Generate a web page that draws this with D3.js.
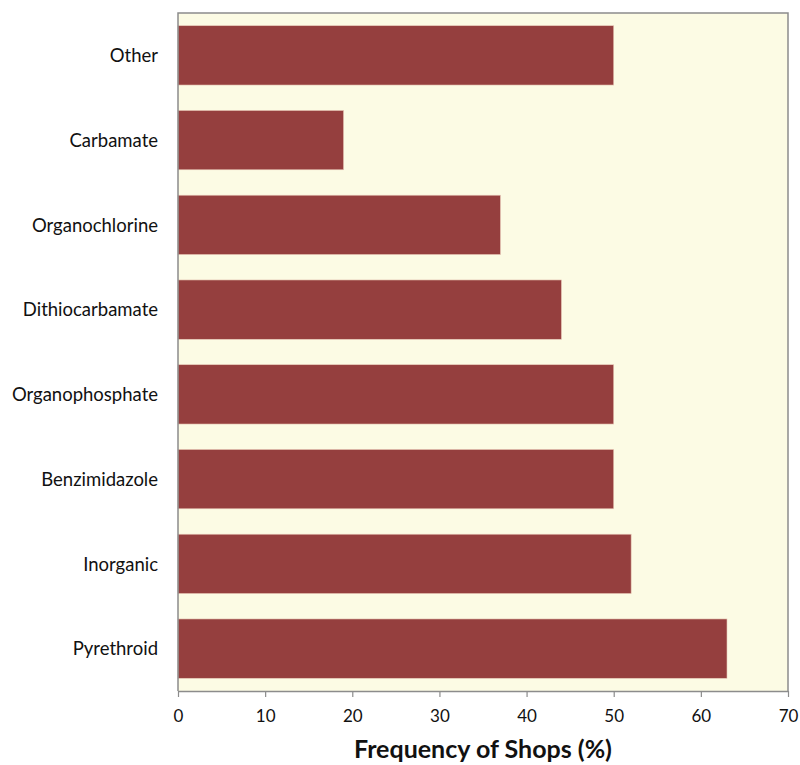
<!DOCTYPE html>
<html>
<head>
<meta charset="utf-8">
<script src="https://cdn.jsdelivr.net/npm/d3@7"></script>
<style>
  html, body { margin: 0; padding: 0; background: #ffffff; }
  svg { display: block; }
  text { font-family: Lato, "Open Sans", sans-serif; }
</style>
</head>
<body>
<svg id="chart" width="800" height="765"></svg>
<script>
// Pesticide classes, listed bottom to top as drawn
const categories = ["Pyrethroid", "Inorganic", "Benzimidazole", "Organophosphate",
                    "Dithiocarbamate", "Organochlorine", "Carbamate", "Other"];
const frequency = [63, 52, 50, 50, 44, 37, 19, 50];
const xTicks = [0, 10, 20, 30, 40, 50, 60, 70];
const xTitle = "Frequency of Shops (%)";

const svg = d3.select("#chart");
const margin = { left: 178, right: 12, top: 13, bottom: 74 };
const W = 800, H = 765;
const innerW = W - margin.left - margin.right;
const innerH = H - margin.top - margin.bottom;

const g = svg.append("g").attr("transform", `translate(${margin.left},${margin.top})`);

const x = d3.scaleLinear().domain([0, 70]).range([0, innerW]);
const y = d3.scaleBand().domain(categories.slice().reverse()).range([0, innerH]).paddingInner(0.3).paddingOuter(0.15);

// plot background
g.append("rect").attr("x", 0).attr("y", 0).attr("width", innerW).attr("height", innerH)
  .attr("fill", "#fcfbe4");

// bars
g.selectAll("rect.bar").data(categories).join("rect")
  .attr("class", "bar")
  .attr("x", x(0))
  .attr("y", d => y(d))
  .attr("width", (d, i) => x(frequency[i]) - x(0))
  .attr("height", y.bandwidth())
  .attr("fill", "#953f3e")
  .attr("stroke", "#e8c9b8")
  .attr("stroke-width", 0.6);

// frame on left, top, right
g.append("path")
  .attr("d", `M0,${innerH}V0H${innerW}V${innerH}`)
  .attr("fill", "none").attr("stroke", "#8c8c8c").attr("stroke-width", 1.5);

// x axis
const xAxis = g.append("g").attr("transform", `translate(0,${innerH})`)
  .call(d3.axisBottom(x).tickValues(xTicks).tickSize(6).tickPadding(13).tickSizeOuter(0));
xAxis.select(".domain").attr("stroke", "#8c8c8c").attr("stroke-width", 1.5);
xAxis.selectAll(".tick line").attr("stroke", "#8c8c8c").attr("stroke-width", 1.2);
xAxis.selectAll(".tick text").attr("font-size", 17).attr("fill", "#111")
  .attr("font-family", "Lato, 'Open Sans', sans-serif");

// category labels
g.selectAll("text.cat").data(categories).join("text")
  .attr("class", "cat")
  .attr("x", -20)
  .attr("y", d => y(d) + y.bandwidth() / 2)
  .attr("dy", "0.36em")
  .attr("text-anchor", "end")
  .attr("font-size", 18.5)
  .attr("fill", "#111")
  .text(d => d);

// x title
svg.append("text")
  .attr("x", margin.left + innerW / 2)
  .attr("y", 758)
  .attr("text-anchor", "middle")
  .attr("font-size", 25)
  .attr("font-weight", "bold")
  .attr("fill", "#111")
  .text(xTitle);
</script>
</body>
</html>
